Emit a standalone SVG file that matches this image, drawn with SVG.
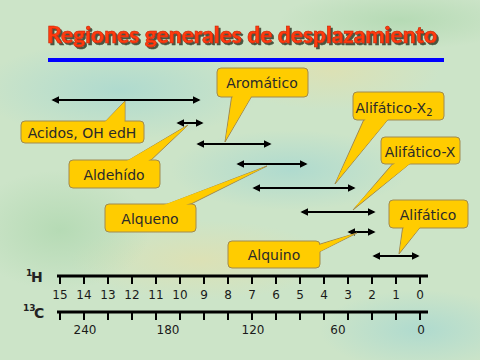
<svg xmlns="http://www.w3.org/2000/svg" width="480" height="360" viewBox="0 0 480 360">
<defs>
<style>
.lbl{font-family:"DejaVu Sans","Liberation Sans",sans-serif;font-size:14px;fill:#2a2a2a;text-anchor:middle}
.num{font-family:"DejaVu Sans","Liberation Sans",sans-serif;font-size:12px;fill:#1a1a1a;text-anchor:middle}
.box{fill:#FFCC00;stroke:#A08A50;stroke-width:1}
.ptr{fill:#FFCC00;stroke:#A08A50;stroke-width:1;stroke-linejoin:miter}
.ptrf{fill:#FFCC00;stroke:none}
.rng{stroke:#000;stroke-width:2;fill:none;marker-start:url(#ah);marker-end:url(#ah)}
.axis{stroke:#000;stroke-width:3}
.tick{stroke:#000;stroke-width:2}
.ax{font-family:"DejaVu Sans","Liberation Sans",sans-serif;font-weight:bold;fill:#222}
</style>
<marker id="ah" viewBox="0 0 10 10" refX="8" refY="5" markerWidth="4" markerHeight="4" orient="auto-start-reverse" markerUnits="strokeWidth">
<path d="M0,0 L10,5 L0,10 z" fill="#000"/>
</marker>
<filter id="shadow" x="-5%" y="-30%" width="110%" height="160%">
<feDropShadow dx="2" dy="2" stdDeviation="0.6" flood-color="#3a4530" flood-opacity="0.9"/>
</filter>
<radialGradient id="b1"><stop offset="0" stop-color="#A8D8D0" stop-opacity="0.8"/><stop offset="1" stop-color="#A8D8D0" stop-opacity="0"/></radialGradient>
<radialGradient id="b2"><stop offset="0" stop-color="#E0E0B0" stop-opacity="0.8"/><stop offset="1" stop-color="#E0E0B0" stop-opacity="0"/></radialGradient>
<radialGradient id="b3"><stop offset="0" stop-color="#B0D8B0" stop-opacity="0.8"/><stop offset="1" stop-color="#B0D8B0" stop-opacity="0"/></radialGradient>
</defs>

<g id="background">
<rect x="0" y="0" width="480" height="360" fill="#CCE4C8"/>
<ellipse cx="120" cy="90" rx="140" ry="50" fill="url(#b1)"/>
<ellipse cx="290" cy="170" rx="120" ry="40" fill="url(#b1)"/>
<ellipse cx="330" cy="70" rx="110" ry="40" fill="url(#b2)"/>
<ellipse cx="200" cy="260" rx="130" ry="40" fill="url(#b2)"/>
<ellipse cx="60" cy="230" rx="90" ry="60" fill="url(#b3)"/>
<ellipse cx="420" cy="330" rx="100" ry="40" fill="url(#b1)"/>
<ellipse cx="400" cy="20" rx="120" ry="30" fill="url(#b3)"/>
</g>

<g id="title">
<text x="47" y="43" font-family="Lato,'DejaVu Sans',sans-serif" font-weight="900" font-size="22" fill="#FF3A10" stroke="#C02000" stroke-width="0.5" textLength="390" lengthAdjust="spacingAndGlyphs" filter="url(#shadow)">Regiones generales de desplazamiento</text>
<rect x="48" y="58" width="396" height="4" fill="#0000FF"/>
</g>

<g id="connectors">
<line class="rng" x1="53" y1="100" x2="199" y2="100"/>
<line class="rng" x1="178" y1="123" x2="202" y2="123"/>
<line class="rng" x1="198" y1="144" x2="270" y2="144"/>
<line class="rng" x1="238" y1="164" x2="306" y2="164"/>
<line class="rng" x1="254" y1="188" x2="354" y2="188"/>
<line class="rng" x1="302" y1="212" x2="374" y2="212"/>
<line class="rng" x1="349" y1="232" x2="374" y2="232"/>
<line class="rng" x1="374" y1="256" x2="418" y2="256"/>
</g>

<g id="node-acidos">
<polygon class="ptr" points="103,124 125,101 125,124"/>
<rect class="box" x="21" y="121" width="123" height="22" rx="4"/>
<polygon class="ptrf" points="104,123 124.5,102 124.5,123"/>
<text class="lbl" x="82" y="138">Acidos, OH edH</text>
</g>

<g id="node-aldehido">
<polygon class="ptr" points="124,163 188,125 148,163"/>
<rect class="box" x="69" y="160" width="91" height="28" rx="4"/>
<polygon class="ptrf" points="125,162 187,126 147,162"/>
<text class="lbl" x="114" y="180">Aldehído</text>
</g>

<g id="node-aromatico">
<polygon class="ptr" points="232,94 225,142 253,94"/>
<rect class="box" x="217" y="68" width="91" height="29" rx="4"/>
<polygon class="ptrf" points="233,95 225.5,140 252,95"/>
<text class="lbl" x="262" y="88">Aromático</text>
</g>

<g id="node-alqueno">
<polygon class="ptr" points="160,207 267,166 185,207"/>
<rect class="box" x="105" y="204" width="91" height="28" rx="4"/>
<polygon class="ptrf" points="161,206 265,167 184,206"/>
<text class="lbl" x="150" y="224">Alqueno</text>
</g>

<g id="node-alifatico-x2">
<polygon class="ptr" points="365,117 335,184 390,117"/>
<rect class="box" x="353" y="92" width="91" height="28" rx="4"/>
<polygon class="ptrf" points="366,118 336,182 389,118"/>
<text class="lbl" x="394" y="113">Alifático-X<tspan font-size="10" dy="3">2</tspan></text>
</g>

<g id="node-alifatico-x">
<polygon class="ptr" points="395,161 353,210 413,161"/>
<rect class="box" x="381" y="137" width="79" height="27" rx="4"/>
<polygon class="ptrf" points="396,162 354,208 412,162"/>
<text class="lbl" x="420" y="157">Alifático-X</text>
</g>

<g id="node-alifatico">
<polygon class="ptr" points="403,225 399,254 422,225"/>
<rect class="box" x="389" y="200" width="79" height="28" rx="4"/>
<polygon class="ptrf" points="404,226 399.5,252 421,226"/>
<text class="lbl" x="428" y="220">Alifático</text>
</g>

<g id="node-alquino">
<polygon class="ptr" points="317,245 357,233 317,253"/>
<rect class="box" x="228" y="241" width="92" height="27" rx="4"/>
<polygon class="ptrf" points="318,245.5 355,233.5 318,252.5"/>
<text class="lbl" x="274" y="260">Alquino</text>
</g>

<g id="axis-h">
<text class="ax" x="26" y="276" font-size="9">1</text>
<text class="ax" x="31" y="282" font-size="14">H</text>
<line class="axis" x1="57" y1="276" x2="428" y2="276"/>
<path class="tick" d="M60,276v8M84,276v8M108,276v8M132,276v8M156,276v8M180,276v8M204,276v8M228,276v8M252,276v8M276,276v8M300,276v8M324,276v8M348,276v8M372,276v8M396,276v8M420,276v8"/>
<g>
<text class="num" x="60" y="299">15</text>
<text class="num" x="84" y="299">14</text>
<text class="num" x="108" y="299">13</text>
<text class="num" x="132" y="299">12</text>
<text class="num" x="156" y="299">11</text>
<text class="num" x="180" y="299">10</text>
<text class="num" x="204" y="299">9</text>
<text class="num" x="228" y="299">8</text>
<text class="num" x="252" y="299">7</text>
<text class="num" x="276" y="299">6</text>
<text class="num" x="300" y="299">5</text>
<text class="num" x="324" y="299">4</text>
<text class="num" x="348" y="299">3</text>
<text class="num" x="372" y="299">2</text>
<text class="num" x="396" y="299">1</text>
<text class="num" x="420" y="299">0</text>
</g>
</g>

<g id="axis-c">
<text class="ax" x="23" y="311" font-size="9">13</text>
<text class="ax" x="34" y="318" font-size="14">C</text>
<line class="axis" x1="57" y1="312" x2="428" y2="312"/>
<path class="tick" d="M60,312v8M84,312v8M108,312v8M132,312v8M156,312v8M180,312v8M204,312v8M228,312v8M252,312v8M276,312v8M300,312v8M324,312v8M348,312v8M372,312v8M396,312v8M420,312v8"/>
<text class="num" x="85" y="334">240</text>
<text class="num" x="168" y="334">180</text>
<text class="num" x="253" y="334">120</text>
<text class="num" x="338" y="334">60</text>
<text class="num" x="421" y="334">0</text>
</g>
</svg>
